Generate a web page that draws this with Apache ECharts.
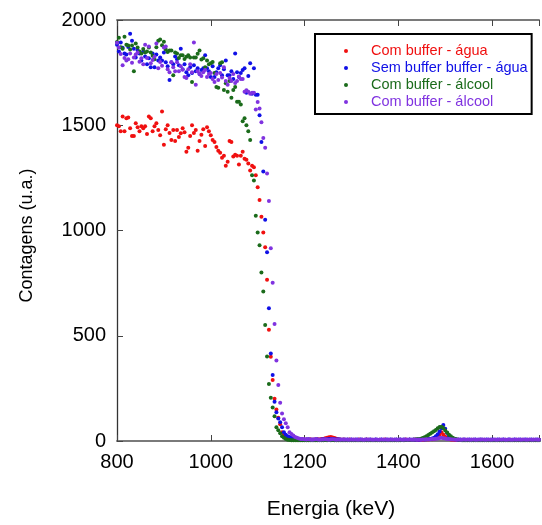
<!DOCTYPE html>
<html>
<head>
<meta charset="utf-8">
<script src="https://cdn.jsdelivr.net/npm/echarts@6/dist/echarts.min.js"></script>
<style>
html,body{margin:0;padding:0;background:#fff;}
#chart{width:542px;height:525px;}
</style>
</head>
<body>
<div id="chart"></div>
<script>
var seriesNames = ['Com buffer - água', 'Sem buffer buffer - água', 'Com buffer - álcool', 'Com buffer - álcool '];
var seriesColors = ['#f01010', '#1010e6', '#1b6b1b', '#8033e0'];
var xTicks = [800, 1000, 1200, 1400, 1600];
var yTicks = [0, 500, 1000, 1500, 2000];

var energies = [
800,804,808,812,816,820,824,828,832,836,
840,844,848,852,856,860,864,868,872,876,
880,884,888,892,896,900,904,908,912,916,
920,924,928,932,936,940,944,948,952,956,
960,964,968,972,976,980,984,988,992,996,
1000,1004,1008,1012,1016,1020,1024,1028,1032,1036,
1040,1044,1048,1052,1056,1060,1064,1068,1072,1076,
1080,1084,1088,1092,1096,1100,1104,1108,1112,1116,
1120,1124,1128,1132,1136,1140,1144,1148,1152,1156,
1160,1164,1168,1172,1176,1180,1184,1188,1192,1196,
1200,1204,1208,1212,1216,1220,1224,1228,1232,1236,
1240,1244,1248,1252,1256,1260,1264,1268,1272,1276,
1280,1284,1288,1292,1296,1300,1304,1308,1312,1316,
1320,1324,1328,1332,1336,1340,1344,1348,1352,1356,
1360,1364,1368,1372,1376,1380,1384,1388,1392,1396,
1400,1404,1408,1412,1416,1420,1424,1428,1432,1436,
1440,1444,1448,1452,1456,1460,1464,1468,1472,1476,
1480,1484,1488,1492,1496,1500,1504,1508,1512,1516,
1520,1524,1528,1532,1536,1540,1544,1548,1552,1556,
1560,1564,1568,1572,1576,1580,1584,1588,1592,1596,
1600,1604,1608,1612,1616,1620,1624,1628,1632,1636,
1640,1644,1648,1652,1656,1660,1664,1668,1672,1676,
1680,1684,1688,1692,1696,1700
];

var comBufferAgua = [
1500,1495,1472,1542,1472,1533,1537,1486,1449,1449,
1509,1490,1472,1495,1486,1495,1458,1542,1533,1472,
1495,1509,1478,1453,1565,1407,1481,1500,1463,1430,
1477,1425,1477,1444,1462,1486,1467,1374,1393,1449,
1500,1463,1477,1379,1425,1455,1481,1402,1491,1472,
1453,1430,1421,1397,1379,1369,1346,1355,1308,1327,
1425,1421,1351,1360,1355,1313,1355,1374,1341,1336,
1318,1285,1308,1300,1262,1206,1145,1065,990,921,
766,528,400,290,201,150,110,79,42,30,
22,16,13,11,9,8,7,8,6,7,
6,7,5,8,6,7,6,8,7,9,
10,13,15,18,19,17,14,11,8,7,
6,7,5,6,7,5,6,6,5,7,
5,6,5,7,6,5,6,5,6,5,
6,5,6,7,5,6,5,6,5,6,
5,6,5,6,7,5,6,5,6,7,
6,5,7,6,7,8,7,9,8,10,
14,20,30,42,30,20,13,9,7,6,
6,5,6,5,6,5,6,5,5,6,
5,6,5,5,6,5,6,5,5,6,
5,5,6,5,6,5,5,6,5,5,
6,5,5,6,5,5,6,5,5,6,
5,5,6,5,5,6
];

var semBufferAgua = [
1883,1850,1893,1868,1841,1836,1872,1935,1902,1864,
1822,1855,1841,1808,1850,1827,1790,1818,1776,1841,
1776,1836,1808,1822,1808,1846,1799,1780,1715,1799,
1790,1827,1813,1785,1864,1766,1790,1752,1738,1776,
1748,1785,1757,1771,1743,1762,1771,1832,1771,1757,
1729,1780,1729,1752,1771,1785,1738,1766,1808,1738,
1738,1757,1720,1841,1752,1729,1748,1762,1771,1654,
1734,1794,1650,1771,1645,1645,1547,1420,1280,1051,
897,631,416,313,187,136,107,89,65,42,
30,23,19,14,11,9,8,7,8,7,
6,7,8,6,7,6,8,7,6,7,
8,7,8,9,8,9,8,7,8,7,
6,7,6,7,6,7,6,6,7,6,
7,6,6,7,6,7,6,6,7,6,
6,7,6,6,7,6,7,6,6,7,
6,7,6,7,6,6,7,6,7,6,
7,6,7,8,7,8,9,10,12,15,
22,32,45,60,76,58,38,24,15,10,
8,7,6,7,6,7,6,6,7,6,
6,7,6,6,7,6,6,7,6,6,
7,6,6,7,6,6,7,6,6,7,
6,6,7,6,6,7,6,6,7,6,
6,7,6,6,7,6
];

var comBufferAlcool = [
1895,1916,1870,1864,1920,1883,1879,1860,1879,1757,
1888,1869,1850,1841,1862,1846,1850,1869,1846,1830,
1813,1870,1902,1907,1880,1897,1860,1848,1855,1855,
1738,1846,1841,1820,1832,1832,1815,1826,1832,1822,
1706,1822,1822,1840,1855,1812,1818,1776,1808,1790,
1794,1800,1748,1682,1678,1794,1799,1668,1700,1659,
1710,1631,1668,1682,1612,1612,1598,1519,1533,1500,
1472,1430,1262,1238,1070,991,930,800,710,551,
402,271,206,159,117,65,51,37,23,15,
10,6,5,4,3,4,3,4,3,4,
3,4,3,4,3,4,4,3,4,3,
4,5,4,5,4,5,4,4,3,4,
3,4,3,4,3,4,3,4,3,4,
3,4,4,3,4,3,4,3,4,4,
3,4,3,4,4,3,4,3,4,3,
4,4,5,4,5,5,6,5,6,7,
8,9,11,14,18,22,28,34,40,46,
52,60,66,68,62,50,40,30,22,15,
11,8,6,5,4,4,3,4,3,4,
3,4,3,4,3,4,3,3,4,3,
4,3,3,4,3,4,3,3,4,3,
3,4,3,3,4,3,4,3,3,4,
3,3,4,3,4,3
];

var comBufferAlcool2 = [
1892,1869,1838,1785,1820,1808,1813,1841,1797,1822,
1836,1846,1802,1818,1790,1883,1820,1874,1795,1810,
1826,1888,1771,1800,1783,1869,1874,1766,1752,1799,
1776,1757,1799,1757,1780,1764,1729,1724,1766,1790,
1752,1893,1692,1757,1745,1734,1752,1762,1729,1743,
1748,1720,1706,1743,1715,1748,1727,1776,1710,1692,
1724,1710,1743,1701,1710,1731,1720,1720,1659,1666,
1659,1650,1654,1654,1575,1610,1579,1514,1439,1393,
1271,1140,916,752,556,383,266,182,131,103,
84,65,42,33,26,19,15,12,10,9,
8,7,8,7,6,7,8,7,6,7,
7,8,7,6,7,8,7,6,7,6,
7,6,7,6,6,7,6,7,6,6,
7,6,6,7,6,7,6,6,7,6,
6,7,6,7,6,6,7,6,7,6,
6,7,6,6,7,6,7,6,6,7,
6,7,6,7,7,8,7,8,9,10,
11,12,14,15,13,12,10,9,8,7,
7,6,7,6,6,7,6,7,6,6,
7,6,6,7,6,7,6,6,7,6,
6,7,6,6,7,6,7,6,6,7,
6,6,7,6,7,6,6,7,6,6,
7,6,6,7,6,6
];

var allValues = [comBufferAgua, semBufferAgua, comBufferAlcool, comBufferAlcool2];

var FONT = '"Liberation Sans", Arial, Helvetica, sans-serif';
var chart = echarts.init(document.getElementById('chart'), null, {renderer: 'canvas'});

function pairs(vals) {
  return energies.map(function (e, i) { return [e, vals[i]]; });
}

var series = allValues.map(function (vals, k) {
  return {
    name: seriesNames[k],
    type: 'scatter',
    data: pairs(vals),
    symbol: 'circle',
    symbolSize: 4,
    itemStyle: {color: seriesColors[k], opacity: 1},
    silent: true,
    animation: false
  };
});

var option = {
  backgroundColor: '#ffffff',
  animation: false,
  textStyle: {fontFamily: FONT},
  grid: {left: 117, top: 20, right: -8, bottom: 77, containLabel: false},
  legend: {
    left: 315, top: 34,
    orient: 'vertical',
    padding: [9, 4, 4, 29],
    itemGap: 1,
    itemWidth: 40,
    itemHeight: 4,
    icon: 'circle',
    borderColor: '#000',
    borderWidth: 2,
    backgroundColor: '#fff',
    selectedMode: false,
    formatter: function (name) { return name.trim(); },
    textStyle: {fontSize: 14.5, fontFamily: FONT, lineHeight: 16},
    data: seriesNames.map(function (n, k) {
      return {name: n, textStyle: {color: seriesColors[k]}};
    })
  },
  xAxis: [{
    type: 'value',
    position: 'bottom',
    min: 800, max: 1700, interval: 200,
    name: 'Energia (keV)',
    nameLocation: 'middle',
    nameGap: 58,
    nameTextStyle: {fontSize: 21, color: '#000', fontFamily: FONT, padding: [0, 0, 0, 6]},
    axisLine: {show: true, onZero: false, lineStyle: {color: '#7a7a7a', width: 2}},
    axisTick: {show: true, inside: true, length: 6, lineStyle: {color: '#444', width: 1}},
    axisLabel: {
      fontSize: 20, color: '#000', margin: 11, fontFamily: FONT,
      formatter: function (v) { return xTicks.indexOf(v) >= 0 ? String(v) : ''; }
    },
    splitLine: {show: false}
  }, {
    type: 'value',
    position: 'top',
    min: 800, max: 1700, interval: 200,
    axisLine: {show: true, onZero: false, lineStyle: {color: '#7a7a7a', width: 2}},
    axisTick: {show: true, inside: true, length: 6, lineStyle: {color: '#444', width: 1}},
    axisLabel: {show: false},
    splitLine: {show: false}
  }],
  yAxis: [{
    type: 'value',
    min: 0, max: 2000, interval: 500,
    name: 'Contagens (u.a.)',
    nameLocation: 'middle',
    nameGap: 81,
    nameRotate: 90,
    nameTextStyle: {fontSize: 18, color: '#000', fontFamily: FONT, padding: [0, 10, 0, 0]},
    axisLine: {show: true, onZero: false, lineStyle: {color: '#333', width: 1.3}},
    axisTick: {show: true, inside: true, length: 6, lineStyle: {color: '#444', width: 1}},
    axisLabel: {
      fontSize: 20, color: '#000', margin: 11, fontFamily: FONT,
      formatter: function (v) { return yTicks.indexOf(v) >= 0 ? String(v) : ''; }
    },
    splitLine: {show: false}
  }],
  series: series
};
chart.setOption(option);
</script>
</body>
</html>
